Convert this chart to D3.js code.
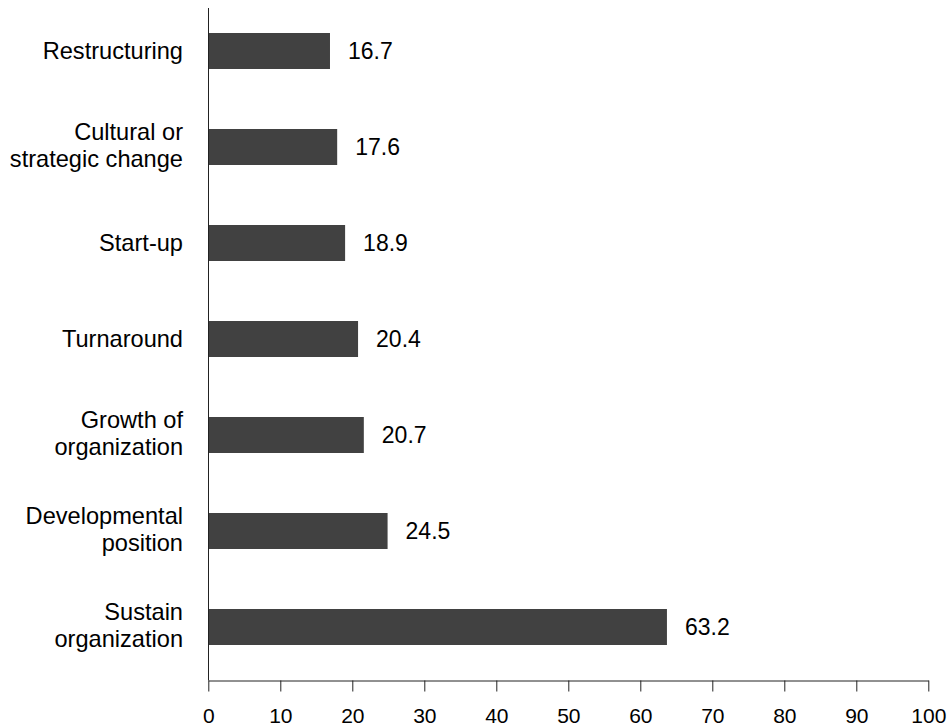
<!DOCTYPE html>
<html>
<head>
<meta charset="utf-8">
<script src="https://cdn.jsdelivr.net/npm/d3@7"></script>
<style>
  html, body { margin: 0; padding: 0; background: #fff; }
  svg { display: block; font-family: "Liberation Sans", Arial, Helvetica, sans-serif; }
</style>
</head>
<body>
<svg id="chart" width="949" height="727"></svg>
<script>
// Categories, top to bottom
const categories = [
  ["Restructuring"],
  ["Cultural or", "strategic change"],
  ["Start-up"],
  ["Turnaround"],
  ["Growth of", "organization"],
  ["Developmental", "position"],
  ["Sustain", "organization"]
];
// Bar lengths as drawn in the picture
const barValues = [16.9, 17.9, 19.0, 20.8, 21.6, 24.9, 63.7];
// Printed value labels
const valueLabels = ["16.7", "17.6", "18.9", "20.4", "20.7", "24.5", "63.2"];
const xTicks = [0, 10, 20, 30, 40, 50, 60, 70, 80, 90, 100];

const svg = d3.select("#chart");
const axisY = 680.5;
const axisTop = 8;

const keys = categories.map(c => c.join(" "));

const x = d3.scaleLinear().domain([0, 100]).range([208.3, 928.3]);
const y = d3.scaleBand().domain(keys).range([3, 675])
  .paddingInner(0.625).paddingOuter(0.3125);

// bars
svg.append("g").selectAll("rect")
  .data(barValues)
  .join("rect")
  .attr("x", x(0))
  .attr("y", (d, i) => y(keys[i]))
  .attr("width", d => x(d) - x(0))
  .attr("height", y.bandwidth())
  .attr("fill", "#414141");

// value labels
svg.append("g").selectAll("text")
  .data(valueLabels)
  .join("text")
  .attr("x", (d, i) => x(barValues[i]) + 18)
  .attr("y", (d, i) => y(keys[i]) + y.bandwidth() / 2)
  .attr("dy", "0.36em")
  .attr("font-size", 23)
  .attr("fill", "#000")
  .text(d => d);

// category labels
const lineH = 26.5;
const catG = svg.append("g");
categories.forEach((lines, i) => {
  const cy = y(keys[i]) + y.bandwidth() / 2 - (lines.length > 1 ? 2 : 0);
  const t = catG.append("text")
    .attr("x", 183)
    .attr("text-anchor", "end")
    .attr("font-size", 23.6)
    .attr("fill", "#000");
  lines.forEach((ln, j) => {
    t.append("tspan")
      .attr("x", 183)
      .attr("y", cy + (j - (lines.length - 1) / 2) * lineH)
      .attr("dy", "0.36em")
      .text(ln);
  });
});

// vertical axis line
svg.append("line")
  .attr("x1", Math.round(x(0)) + 0.5).attr("x2", Math.round(x(0)) + 0.5)
  .attr("y1", axisTop).attr("y2", axisY)
  .attr("stroke", "#222").attr("stroke-width", 1);

// x axis
const xAxis = d3.axisBottom(x)
  .tickValues(xTicks)
  .tickSize(11)
  .tickSizeOuter(0)
  .tickPadding(16.5)
  .tickFormat(d3.format("d"));

const gx = svg.append("g")
  .attr("transform", `translate(0,${axisY})`)
  .call(xAxis);
gx.select(".domain").attr("stroke", "#222");
gx.selectAll(".tick line").attr("stroke", "#222");
gx.selectAll(".tick text")
  .attr("font-size", 21)
  .attr("font-family", "'Liberation Sans', Arial, sans-serif")
  .attr("fill", "#000");
</script>
</body>
</html>
